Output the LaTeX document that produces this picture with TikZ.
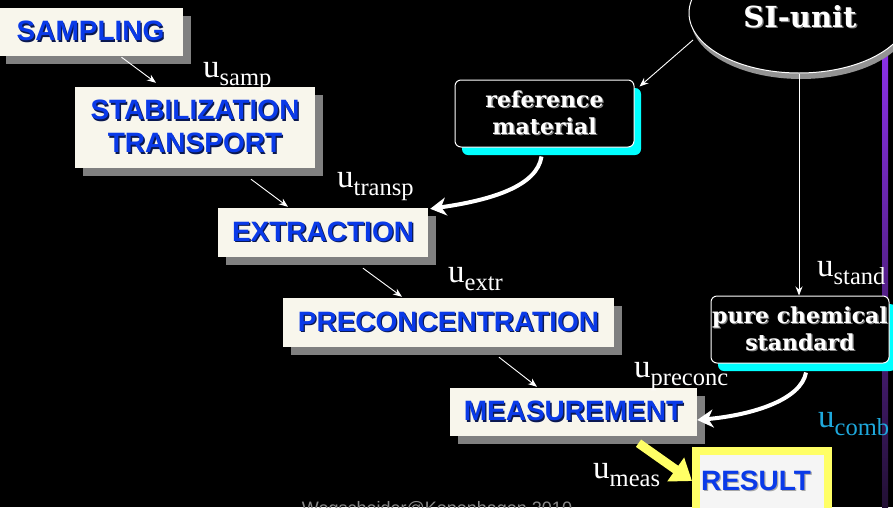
\documentclass[tikz,border=0pt]{standalone}
\usepackage{fontspec}
\setmainfont{Liberation Serif}
\newfontfamily\sansb{Liberation Sans}
\newfontfamily\serb{DejaVu Serif}
\usetikzlibrary{shapes.geometric,shadows,arrows.meta,calc}
\definecolor{cream}{HTML}{F8F6EC}
\definecolor{boxshadow}{HTML}{808080}
\definecolor{stepblue}{HTML}{0A3AE8}
\definecolor{bluesh}{HTML}{0A1850}
\definecolor{ucyan}{HTML}{1EA8DC}
\definecolor{aqua}{HTML}{00FFFF}
\definecolor{yel}{HTML}{FFFF66}
\definecolor{resfill}{HTML}{F5F5F5}
\definecolor{purtop}{HTML}{8A30E6}
\definecolor{purbot}{HTML}{221034}
\definecolor{footgray}{HTML}{8A8A8A}
\newcommand\sht[2]{\rlap{\kern1.3pt\raisebox{-1.3pt}{\color{#1}#2}}#2}
\newcommand\ulab[1]{{\fontsize{33}{33}\selectfont u}\raisebox{-8pt}{\fontsize{24.5}{24.5}\selectfont #1}}
\tikzset{
  stepbox/.style={draw=none, fill=cream, inner sep=0pt, text=stepblue,
    font=\sansb\bfseries\fontsize{28}{33}\selectfont, align=center,
    drop shadow={shadow xshift=8pt, shadow yshift=-8pt, fill=boxshadow, opacity=1}},
  srcbox/.style={draw=white, line width=1pt, rounded corners=6pt, fill=black, inner sep=0pt,
    text=white, font=\serb\bfseries\fontsize{22}{27}\selectfont, align=center,
    drop shadow={shadow xshift=7pt, shadow yshift=-8pt, fill=aqua, opacity=1}},
  ulabel/.style={anchor=base west, inner sep=0pt, text=white},
  thinarrow/.style={draw=white, line width=0.9pt, -{Stealth[length=9pt,width=7pt]}},
  thickarrow/.style={draw=white, line width=4pt, -{Stealth[length=16pt,width=18pt,inset=5pt]}},
  yelarrow/.style={draw=yel, line width=9pt, -{Triangle[length=20pt,width=28pt]}},
}
\begin{document}
\begin{tikzpicture}[x=1pt,y=-1pt]
\useasboundingbox (0,0) rectangle (893,507);
\clip (0,0) rectangle (893,507);
\fill[black] (0,0) rectangle (893,507);
% purple bar
\shade[top color=purtop, bottom color=purbot] (882,55) rectangle (888,507);

% SI-unit ellipse
\node[ellipse, draw=white, line width=1pt, fill=black, minimum width=220pt, minimum height=120pt,
  inner sep=0pt,
  drop shadow={shadow xshift=2pt, shadow yshift=-6pt, fill=gray!85, opacity=1}]
  (si) at (799,13) {};
\node[inner sep=0pt, text=white, font=\serb\bfseries\fontsize{29}{32}\selectfont]
  (sitxt) at (800,17) {\sht{gray}{SI-unit}};

% step boxes
\node[stepbox, minimum width=185pt, minimum height=48pt] (samp) at (90.5,32) {\sht{bluesh}{SAMPLING}};
\node[stepbox, minimum width=240pt, minimum height=81pt] (stab) at (195,127.5) {\sht{bluesh}{STABILIZATION}\\\sht{bluesh}{TRANSPORT}};
\node[stepbox, minimum width=210pt, minimum height=49pt] (extr) at (323,232.5) {\sht{bluesh}{EXTRACTION}};
\node[stepbox, minimum width=331pt, minimum height=49pt] (prec) at (448.5,322.5) {\sht{bluesh}{PRECONCENTRATION}};
\node[stepbox, minimum width=247pt, minimum height=48pt] (meas) at (573.5,412) {\sht{bluesh}{MEASUREMENT}};

% source boxes
\node[srcbox, minimum width=179pt, minimum height=67pt] (refm) at (544.5,113.5) {\sht{gray}{reference}\\\sht{gray}{material}};
\node[srcbox, minimum width=178pt, minimum height=67pt] (pure) at (800,329.5) {\sht{gray}{pure chemical}\\\sht{gray}{standard}};

% result
\node[draw=yel, line width=8pt, fill=resfill, minimum width=132pt, minimum height=62pt, inner sep=0pt] (res) at (762,482) {};
\node[inner sep=0pt, text=stepblue, font=\sansb\bfseries\fontsize{28}{33}\selectfont] (restxt) at (756,481) {\sht{gray!70}{RESULT}};

% thin arrows between steps
\draw[thinarrow] ($(samp.south)+(31,1)$) -- ($(stab.north)+(-39,-4)$);
\draw[thinarrow] ($(stab.south)+(56,11)$) -- ($(extr.north)+(-35,-1)$);
\draw[thinarrow] ($(extr.south)+(40,11)$) -- ($(prec.north)+(-46.5,-1)$);
\draw[thinarrow] ($(prec.south)+(50.5,10)$) -- ($(meas.north)+(-36.5,-1)$);
\draw[thinarrow] ($(si.center)+(-106,27)$) -- ($(refm.north east)+(5,7)$);
\draw[thinarrow] (si.south) -- (si.south |- pure.north);

% thick curved arrows
\draw[thickarrow] ($(refm.south)+(-3,9)$) .. controls (537,186) and (492,200) .. ($(extr.north east)+(2,1)$);
\draw[thickarrow] ($(pure.south)+(6,9)$) .. controls (801,400) and (752,415) .. ($(meas.east)+(0,8)$);

% yellow arrow
\draw[yelarrow] ($(meas.south)+(65,7)$) -- (res.west |- restxt.center);

% uncertainty labels
\node[ulabel] (usamp) at (203,77) {\ulab{samp}};
\node[ulabel] (utransp) at (337,187) {\ulab{transp}};
\node[ulabel] (uextr) at (448,282) {\ulab{extr}};
\node[ulabel] (uprec) at (634,377) {\ulab{preconc}};
\node[ulabel] (ustand) at (817,276) {\ulab{stand}};
\node[ulabel] (umeas) at (593,478) {\ulab{meas}};
\node[ulabel, text=ucyan] (ucomb) at (818,427) {\ulab{comb}};

% footer
\node[anchor=base, inner sep=0pt, text=footgray, font=\sansb\fontsize{18}{20}\selectfont] (foot) at (437,514) {Wegscheider@Kopenhagen 2010};
\end{tikzpicture}
\end{document}
